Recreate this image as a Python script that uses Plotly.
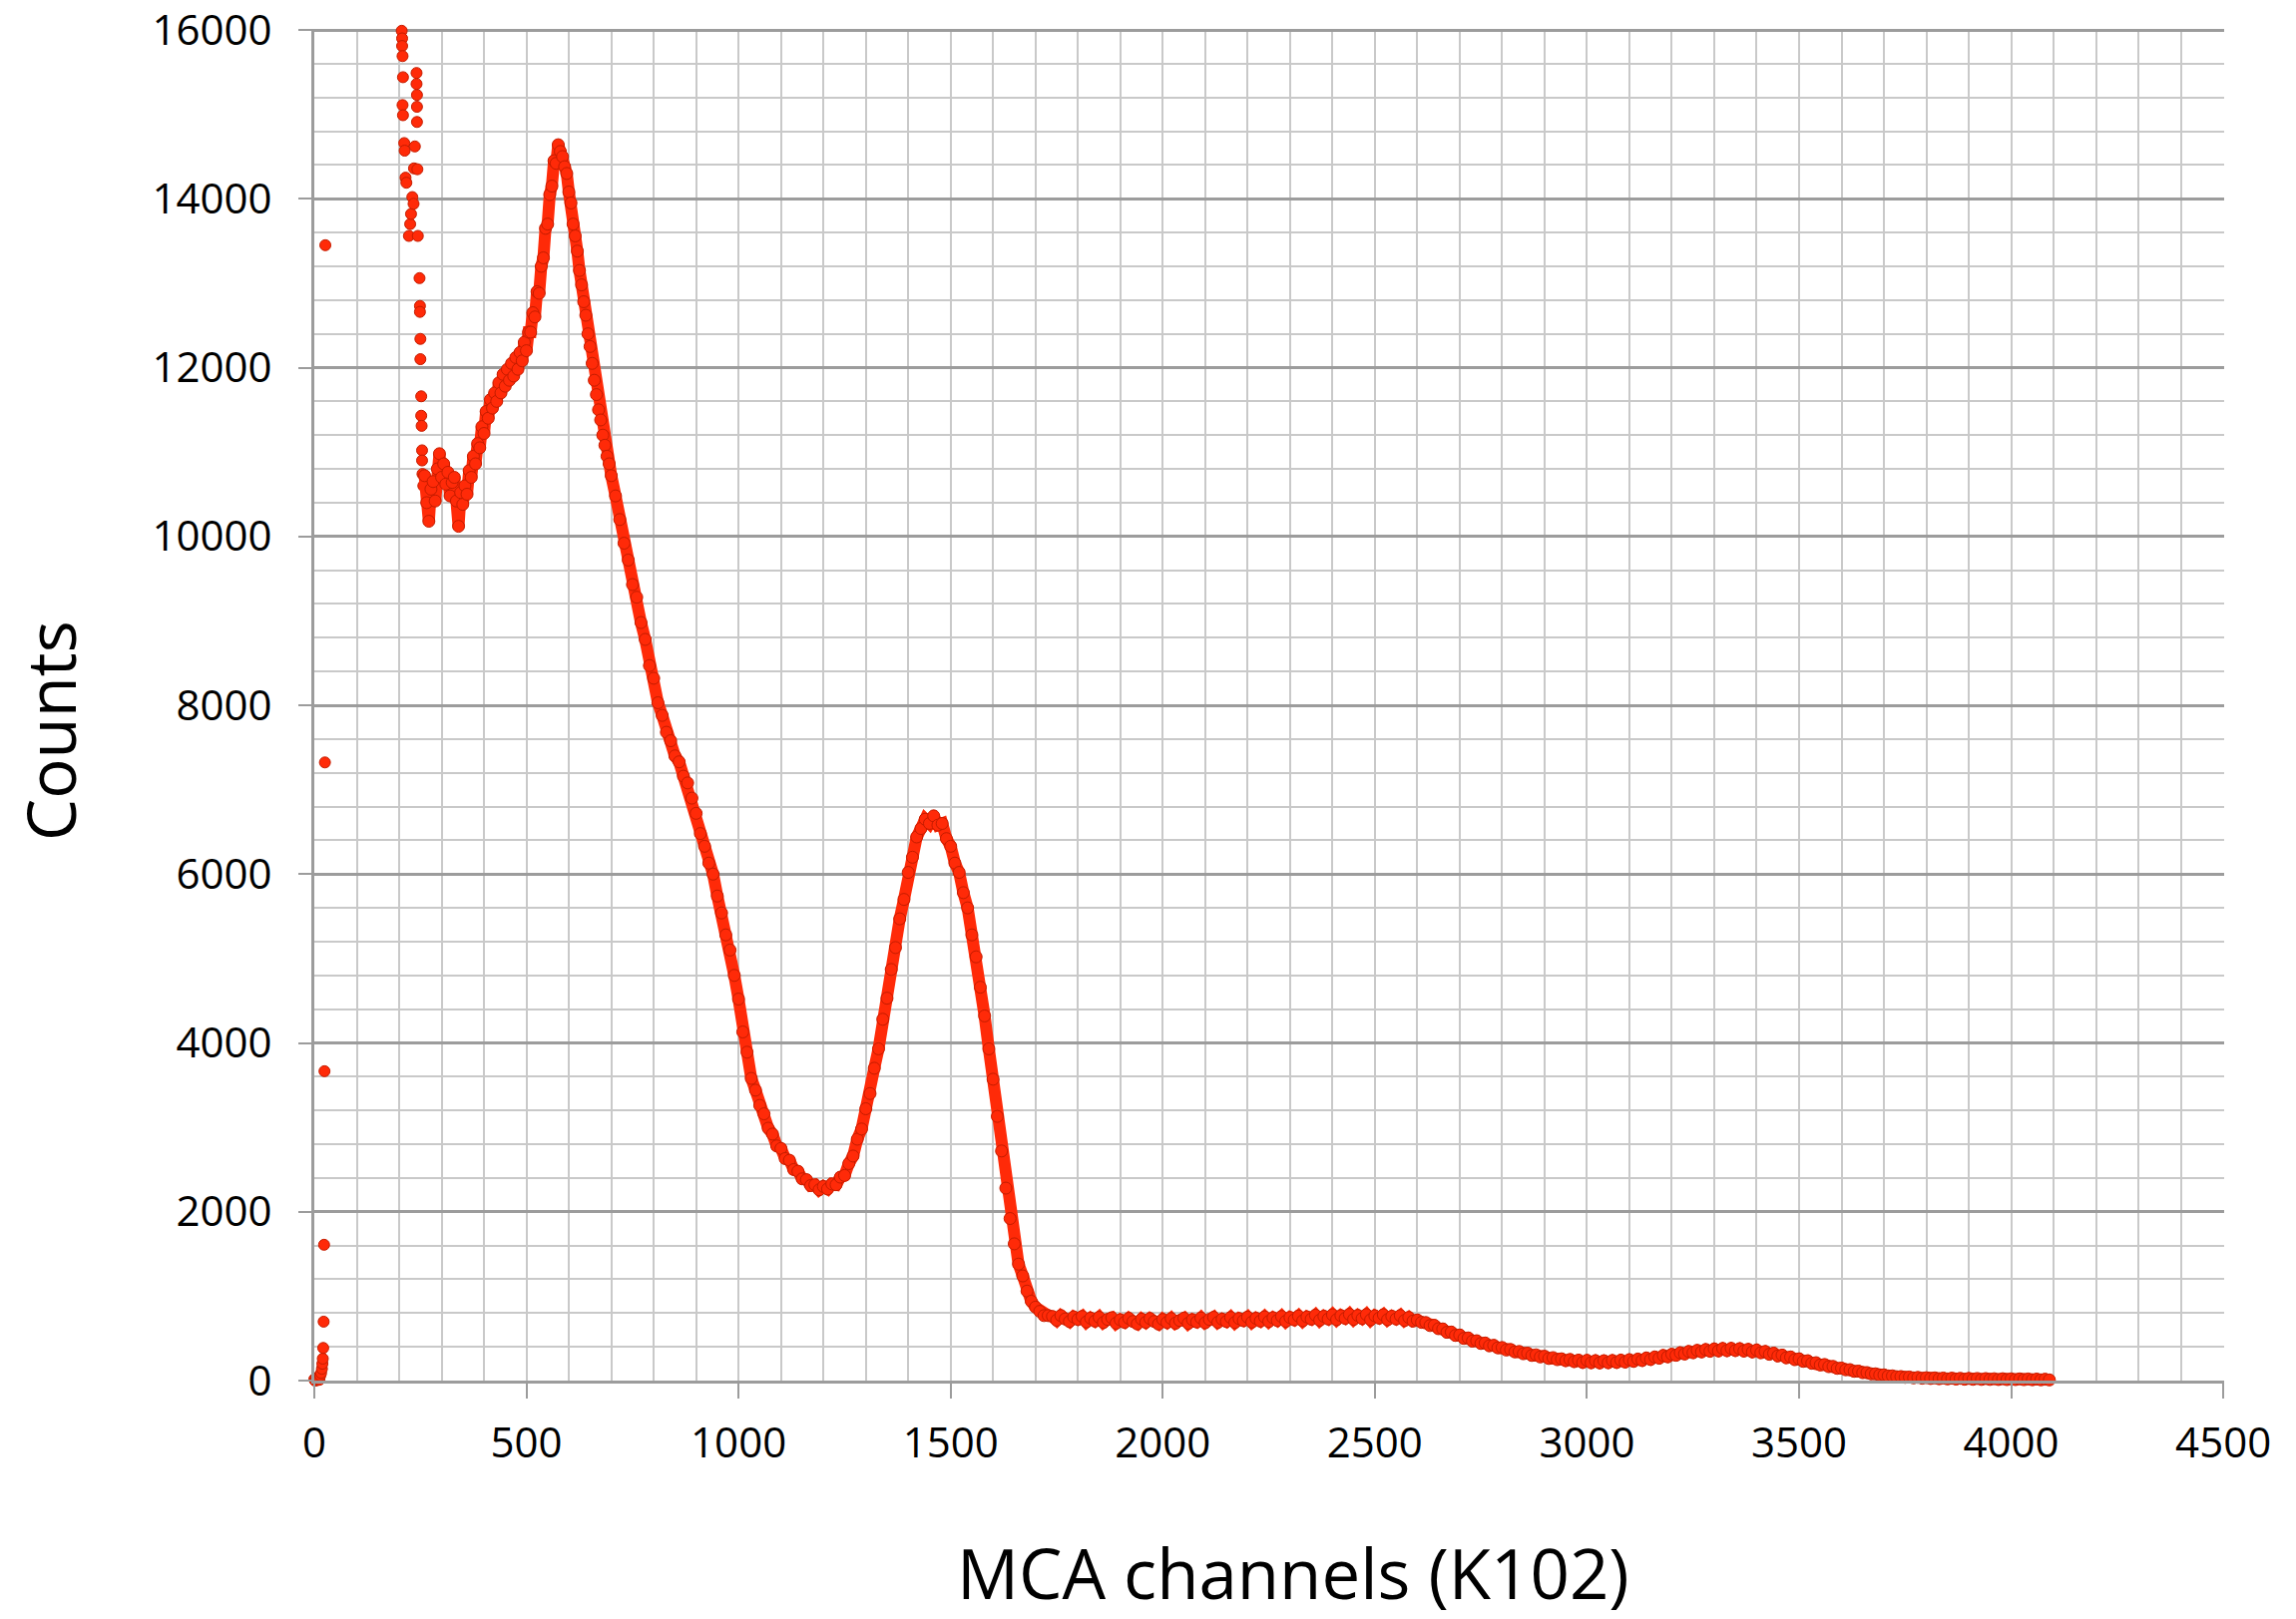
import plotly.graph_objects as go

# ---- data (MCA channel, counts) ----
SPIKE_CH = [0, 2, 4, 6, 8, 10, 12, 14, 16, 18, 19, 20, 21, 22, 23, 24, 25, 26]
SPIKE_CNT = [15, 0, 30, 5, 20, 45, 10, 60, 90, 140, 200, 260, 387, 698, 1609, 3665, 7323, 13450]

DROP_CH = [206, 207, 207, 208, 209, 208, 209, 212, 213, 215,
           217, 223, 226, 228, 231, 234, 235, 237, 241, 241,
           242, 242, 242, 243, 244, 248, 249, 249, 250, 250,
           252, 252, 253, 254, 254, 255, 257]
DROP_CNT = [15990, 15900, 15810, 15690, 15440, 15110, 14990, 14660, 14570, 14250,
            14190, 13560, 13700, 13820, 14020, 13940, 14360, 14620, 15490, 15360,
            15230, 15090, 14910, 14350, 13560, 13060, 12730, 12660, 12340, 12100,
            11660, 11430, 11310, 11020, 10900, 10740, 10600]

PEAK_CH = list(range(260, 705, 5))
PEAK_CNT = [
    10720, 10400, 10180, 10560, 10650, 10420, 10800, 10980, 10700, 10860,
    10620, 10760, 10480, 10640, 10700, 10420, 10120, 10520, 10380, 10600,
    10500, 10780, 10700, 10950, 10860, 11100, 11050, 11300, 11220, 11480,
    11400, 11620, 11520, 11700, 11600, 11820, 11700, 11920, 11780, 11980,
    11850, 12050, 11900, 12120, 11980, 12180, 12080, 12300, 12200, 12420,
    12420, 12650, 12600, 12900, 12880, 13200, 13300, 13650, 13700, 14050,
    14150, 14450, 14420, 14640, 14560, 14500, 14380, 14300, 14080, 13950,
    13700, 13560, 13380, 13150, 12980, 12780, 12620, 12400, 12250, 12050,
    11850, 11680, 11500, 11380, 11200, 11080, 10950, 10860, 10720,
]

TAIL_CH = list(range(710, 4100, 10))
TAIL_CNT = [
    10480, 10200, 9920, 9720, 9430, 9280, 8980, 8780, 8470, 8320,
    8030, 7880, 7680, 7580, 7400, 7330, 7160, 7080, 6900, 6720,
    6480, 6330, 6130, 6000, 5740, 5540, 5280, 5100, 4800, 4520,
    4130, 3890, 3580, 3440, 3260, 3160, 2990, 2920, 2780, 2750,
    2630, 2610, 2500, 2480, 2390, 2380, 2310, 2320, 2260, 2300,
    2270, 2330, 2320, 2410, 2430, 2570, 2660, 2860, 2980, 3220,
    3400, 3700, 3930, 4280, 4530, 4870, 5130, 5470, 5700, 6020,
    6200, 6440, 6540, 6650, 6600, 6690, 6580, 6600, 6420, 6330,
    6130, 6020, 5780, 5600, 5280, 5020, 4660, 4320, 3930, 3570,
    3130, 2720, 2280, 1920, 1620, 1380, 1240, 1060, 940, 870,
    820, 770, 770, 760, 715, 770, 730, 700, 755, 725,
    760, 695, 740, 705, 750, 688, 725, 745, 680, 720,
    690, 738, 700, 672, 728, 690, 735, 700, 670, 725,
    688, 735, 680, 712, 740, 678, 722, 695, 742, 685,
    725, 750, 690, 728, 700, 748, 688, 735, 710, 752,
    692, 738, 705, 755, 700, 745, 712, 760, 702, 748,
    720, 765, 708, 755, 728, 775, 715, 762, 730, 780,
    722, 770, 738, 785, 725, 772, 735, 782, 720, 768,
    740, 780, 722, 762, 730, 770, 712, 748, 705, 718,
    690, 688, 652, 655, 615, 612, 572, 575, 535, 540,
    500, 505, 468, 472, 440, 445, 412, 418, 388, 392,
    362, 368, 340, 345, 318, 325, 298, 305, 280, 288,
    262, 272, 248, 258, 236, 250, 225, 242, 215, 240,
    212, 236, 210, 235, 212, 238, 215, 242, 220, 248,
    228, 255, 238, 268, 250, 280, 265, 298, 282, 312,
    300, 330, 315, 345, 330, 358, 340, 368, 348, 375,
    352, 380, 355, 382, 356, 378, 350, 370, 340, 362,
    330, 345, 312, 325, 292, 302, 270, 280, 248, 258,
    228, 235, 205, 212, 185, 190, 165, 168, 145, 148,
    128, 130, 110, 112, 94, 95, 80, 80, 66, 68,
    55, 56, 46, 48, 38, 42, 32, 38, 28, 34,
    25, 32, 22, 30, 20, 28, 18, 27, 16, 26,
    15, 25, 14, 24, 14, 22, 13, 22, 12, 21,
    12, 20, 11, 19, 10, 18, 9, 16, 8,
]

X_TITLE = "MCA channels (K102)"
Y_TITLE = "Counts"

RED = "#ff2a08"
EDGE = "#c41c00"

fig = go.Figure()

# isolated channels (low-channel spike and the steep fall near 200-260)
fig.add_trace(go.Scatter(
    x=SPIKE_CH + DROP_CH,
    y=SPIKE_CNT + DROP_CNT,
    mode="markers",
    marker=dict(size=11, color=RED, line=dict(color=EDGE, width=1)),
    cliponaxis=False,
    showlegend=False,
))

# dense continuous part of the spectrum
fig.add_trace(go.Scatter(
    x=PEAK_CH + TAIL_CH,
    y=PEAK_CNT + TAIL_CNT,
    mode="lines+markers",
    line=dict(color=RED, width=12),
    marker=dict(size=12, color=RED, line=dict(color=EDGE, width=1)),
    cliponaxis=False,
    showlegend=False,
))

light = "#c9c9c9"
dark = "#9c9c9c"
tickfont = dict(family="Open Sans", size=42, color="black")

fig.update_layout(
    width=2301,
    height=1623,
    margin=dict(l=315, r=72, t=29, b=239, autoexpand=False),
    paper_bgcolor="white",
    plot_bgcolor="white",
    xaxis=dict(
        range=[0, 4502],
        tick0=0,
        dtick=500,
        showgrid=True,
        gridcolor=light,
        gridwidth=2,
        minor=dict(dtick=100, showgrid=True, gridcolor=light, gridwidth=2, ticks=""),
        ticks="outside",
        ticklen=15,
        tickwidth=2,
        tickcolor=dark,
        showline=True,
        linecolor=dark,
        linewidth=3,
        zeroline=False,
        automargin=False,
        tickformat="d",
        tickfont=tickfont,
        ticklabelstandoff=9,
        ticklabeloverflow="allow",
    ),
    yaxis=dict(
        range=[0, 16012],
        tick0=0,
        dtick=2000,
        showgrid=True,
        gridcolor=dark,
        gridwidth=2.5,
        minor=dict(dtick=400, showgrid=True, gridcolor=light, gridwidth=2, ticks=""),
        ticks="outside",
        ticklen=13,
        tickwidth=2,
        tickcolor=dark,
        showline=True,
        linecolor=dark,
        linewidth=3,
        zeroline=False,
        automargin=False,
        tickformat="d",
        tickfont=tickfont,
        ticklabelstandoff=18,
        ticklabeloverflow="allow",
    ),
    annotations=[
        dict(text=X_TITLE, xref="paper", yref="paper", x=0.5125, y=-0.1417,
             xanchor="center", yanchor="middle", showarrow=False,
             font=dict(family="Open Sans", size=69, color="black")),
        dict(text=Y_TITLE, xref="paper", yref="paper", x=-0.1385, y=0.4812,
             xanchor="center", yanchor="middle", textangle=-90, showarrow=False,
             font=dict(family="Open Sans", size=67, color="black")),
    ],
)

fig.write_html("out.html")
